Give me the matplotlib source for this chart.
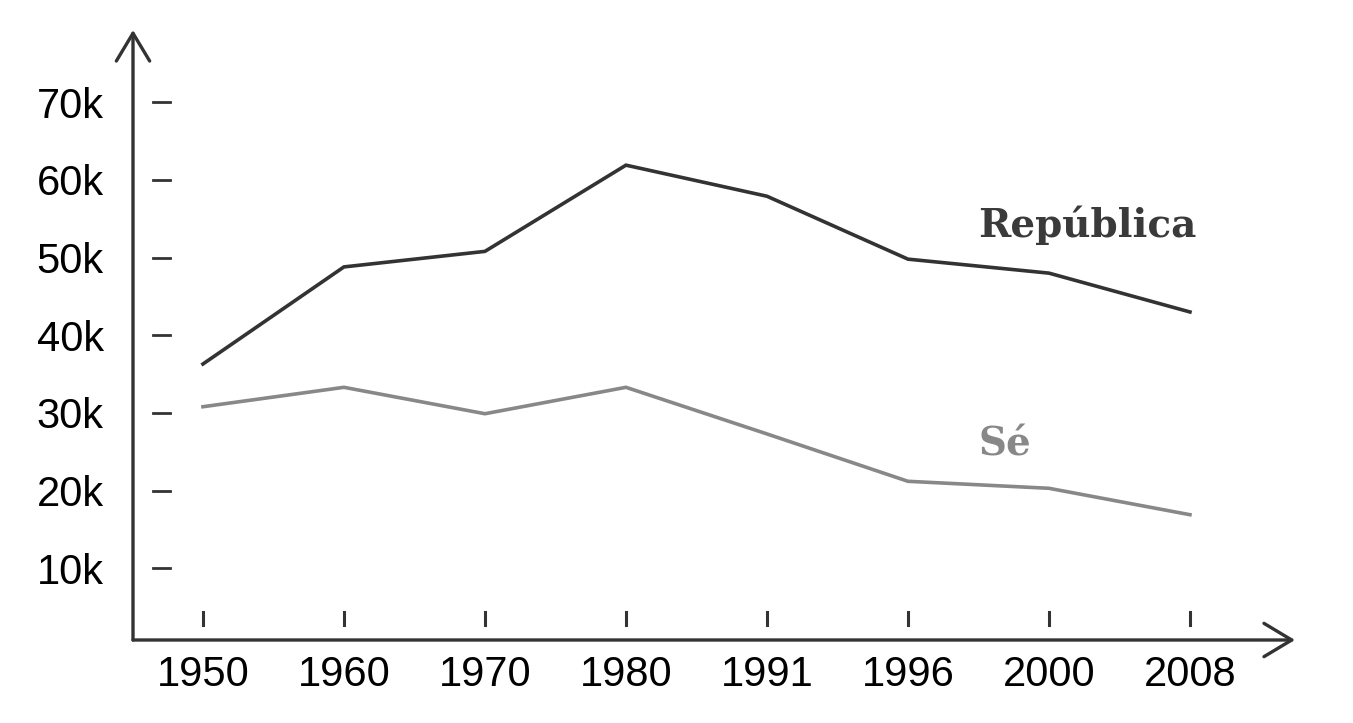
import matplotlib
matplotlib.use('Agg')
import matplotlib.pyplot as plt
from matplotlib import transforms

years = ['1950', '1960', '1970', '1980', '1991', '1996', '2000', '2008']
republica = [36.3, 48.8, 50.8, 61.9, 57.9, 49.8, 48.0, 43.0]
se = [30.8, 33.3, 29.9, 33.3, 27.3, 21.2, 20.3, 16.9]
ytick_vals = [10, 20, 30, 40, 50, 60, 70]
ytick_labels = ['10k', '20k', '30k', '40k', '50k', '60k', '70k']

DARK = '#333333'
LIGHT = '#888888'

fig = plt.figure(figsize=(13.53, 7.23), dpi=100)
ax = fig.add_axes([133 / 1353, 83 / 723, 1162 / 1353, 610 / 723])

x = list(range(len(years)))
ax.plot(x, republica, color=DARK, linewidth=2.6, solid_joinstyle='miter')
ax.plot(x, se, color=LIGHT, linewidth=2.6, solid_joinstyle='miter')

ax.set_xlim(-0.496, 7.745)
ax.set_ylim(0.77, 79.3)

for s in ax.spines.values():
    s.set_visible(False)

# axis arrows
arrow = dict(arrowstyle='->, head_length=1.0, head_width=0.6', color=DARK,
             lw=2.4, mutation_scale=20, shrinkA=0, shrinkB=0)
ax.annotate('', xy=(0, 1), xytext=(0, 0), xycoords='axes fraction',
            textcoords='axes fraction', arrowprops=arrow, annotation_clip=False)
ax.annotate('', xy=(1, 0), xytext=(0, 0), xycoords='axes fraction',
            textcoords='axes fraction', arrowprops=arrow, annotation_clip=False)

# tick labels
ax.set_xticks(x)
ax.set_xticklabels(years)
ax.set_yticks(ytick_vals)
ax.set_yticklabels(ytick_labels)
ax.tick_params(axis='both', length=0, labelsize=30, colors='black')
ax.tick_params(axis='x', pad=11)
ax.tick_params(axis='y', pad=21)
for lab in ax.get_xticklabels() + ax.get_yticklabels():
    lab.set_family('Liberation Sans')

# detached tick dashes
ty = transforms.blended_transform_factory(ax.transAxes, ax.transData)
for v in ytick_vals:
    ax.plot([0.0172, 0.0318], [v, v], color=DARK, lw=2, transform=ty, clip_on=False)
tx = transforms.blended_transform_factory(ax.transData, ax.transAxes)
for i in x:
    ax.plot([i, i], [0.0246, 0.0459], color=DARK, lw=2.2, transform=tx, clip_on=False)

# series labels
ax.text(5.5, 54.2, 'República', color='#3a3a3a', fontsize=28, fontweight='bold',
        family='DejaVu Serif', ha='left', va='center')
ax.text(5.5, 25.9, 'Sé', color=LIGHT, fontsize=28, fontweight='bold',
        family='DejaVu Serif', ha='left', va='center')

fig.savefig('out.png', dpi=100)
